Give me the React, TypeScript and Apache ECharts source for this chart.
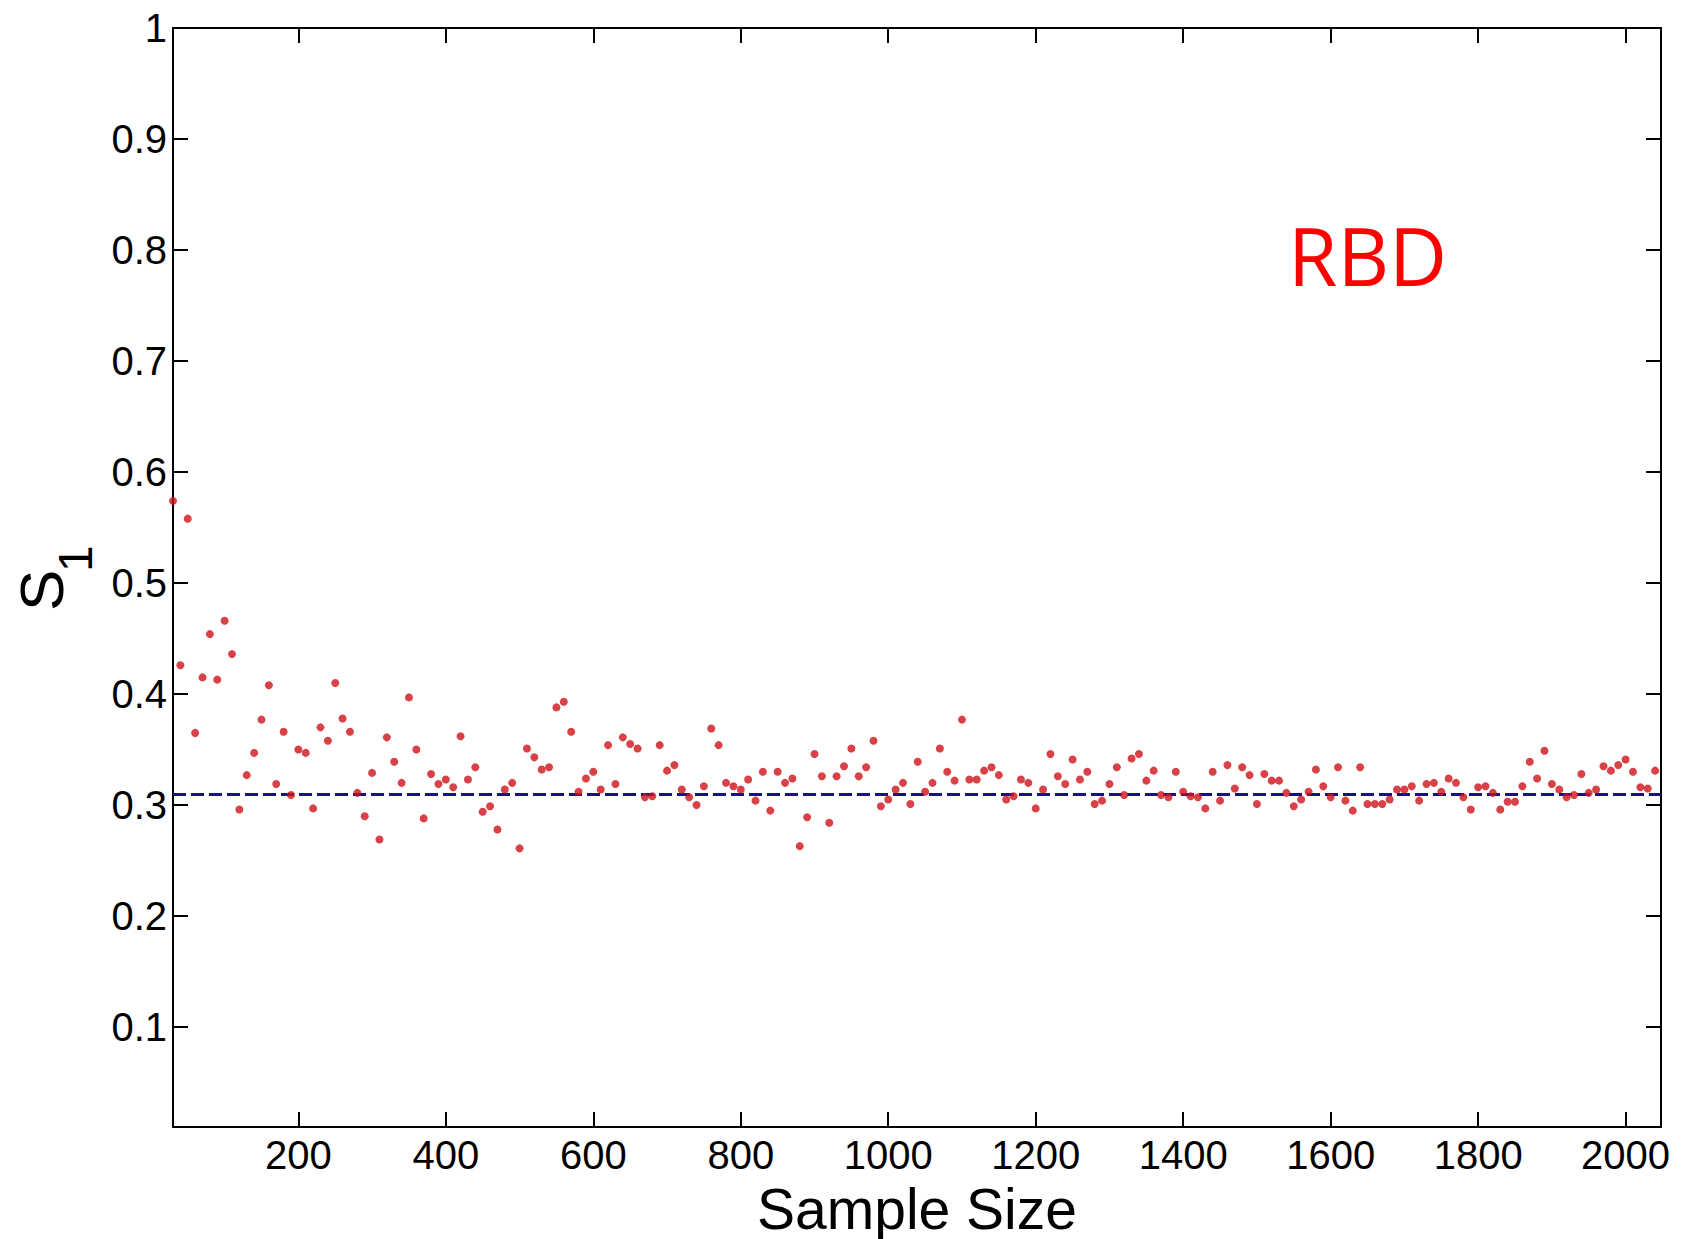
import React, { useEffect, useRef } from "react";
import * as echarts from "echarts";

const sampleSizes = [
  30, 40, 50, 60, 70, 80, 90, 100, 110, 120,
  130, 140, 150, 160, 170, 180, 190, 200, 210, 220,
  230, 240, 250, 260, 270, 280, 290, 300, 310, 320,
  330, 340, 350, 360, 370, 380, 390, 400, 410, 420,
  430, 440, 450, 460, 470, 480, 490, 500, 510, 520,
  530, 540, 550, 560, 570, 580, 590, 600, 610, 620,
  630, 640, 650, 660, 670, 680, 690, 700, 710, 720,
  730, 740, 750, 760, 770, 780, 790, 800, 810, 820,
  830, 840, 850, 860, 870, 880, 890, 900, 910, 920,
  930, 940, 950, 960, 970, 980, 990, 1000, 1010, 1020,
  1030, 1040, 1050, 1060, 1070, 1080, 1090, 1100, 1110, 1120,
  1130, 1140, 1150, 1160, 1170, 1180, 1190, 1200, 1210, 1220,
  1230, 1240, 1250, 1260, 1270, 1280, 1290, 1300, 1310, 1320,
  1330, 1340, 1350, 1360, 1370, 1380, 1390, 1400, 1410, 1420,
  1430, 1440, 1450, 1460, 1470, 1480, 1490, 1500, 1510, 1520,
  1530, 1540, 1550, 1560, 1570, 1580, 1590, 1600, 1610, 1620,
  1630, 1640, 1650, 1660, 1670, 1680, 1690, 1700, 1710, 1720,
  1730, 1740, 1750, 1760, 1770, 1780, 1790, 1800, 1810, 1820,
  1830, 1840, 1850, 1860, 1870, 1880, 1890, 1900, 1910, 1920,
  1930, 1940, 1950, 1960, 1970, 1980, 1990, 2000, 2010, 2020,
  2030, 2040,
];

const s1Values = [
  0.574, 0.426, 0.558, 0.365, 0.415, 0.454, 0.413, 0.466, 0.436, 0.296,
  0.327, 0.347, 0.377, 0.408, 0.319, 0.366, 0.309, 0.350, 0.347, 0.297,
  0.370, 0.358, 0.410, 0.378, 0.366, 0.311, 0.290, 0.329, 0.269, 0.361,
  0.339, 0.320, 0.397, 0.350, 0.288, 0.328, 0.319, 0.323, 0.316, 0.362,
  0.323, 0.334, 0.294, 0.299, 0.278, 0.314, 0.320, 0.261, 0.351, 0.343,
  0.332, 0.334, 0.388, 0.393, 0.366, 0.312, 0.324, 0.330, 0.314, 0.354,
  0.319, 0.361, 0.355, 0.351, 0.307, 0.308, 0.354, 0.331, 0.336, 0.314,
  0.307, 0.300, 0.317, 0.369, 0.354, 0.320, 0.317, 0.314, 0.323, 0.304,
  0.330, 0.295, 0.330, 0.320, 0.324, 0.263, 0.289, 0.346, 0.326, 0.284,
  0.326, 0.335, 0.351, 0.326, 0.334, 0.358, 0.299, 0.305, 0.314, 0.320,
  0.301, 0.339, 0.312, 0.320, 0.351, 0.330, 0.322, 0.377, 0.323, 0.323,
  0.331, 0.334, 0.327, 0.305, 0.308, 0.323, 0.320, 0.297, 0.314, 0.346,
  0.326, 0.319, 0.341, 0.323, 0.330, 0.301, 0.304, 0.319, 0.334, 0.309,
  0.342, 0.346, 0.322, 0.331, 0.309, 0.307, 0.330, 0.312, 0.308, 0.307,
  0.297, 0.330, 0.304, 0.336, 0.315, 0.334, 0.327, 0.301, 0.328, 0.322,
  0.322, 0.311, 0.299, 0.305, 0.312, 0.332, 0.317, 0.307, 0.334, 0.304,
  0.295, 0.334, 0.301, 0.301, 0.301, 0.305, 0.314, 0.314, 0.317, 0.304,
  0.319, 0.320, 0.312, 0.324, 0.320, 0.307, 0.296, 0.316, 0.317, 0.311,
  0.296, 0.303, 0.303, 0.317, 0.339, 0.324, 0.349, 0.319, 0.314, 0.307,
  0.309, 0.328, 0.311, 0.314, 0.335, 0.331, 0.336, 0.341, 0.330, 0.316,
  0.315, 0.331,
];

const referenceS1 = 0.311;
const xLimits = [30, 2048];
const yLimits = [0.01, 1];
const methodLabel = "RBD";
const xTitle = "Sample Size";
const yTitleMain = "S";
const yTitleSub = "1";

const FONT = '"Liberation Sans", Arial, Helvetica, sans-serif';

export default function App() {
  const ref = useRef<HTMLDivElement>(null);

  useEffect(() => {
    const chart = echarts.init(ref.current!, null, { renderer: "svg" });

    const lineStyle = { color: "#000", width: 2 };
    const xBase = {
      type: "value",
      min: xLimits[0],
      max: xLimits[1],
      splitNumber: 10,
      minInterval: 200,
      maxInterval: 200,
      axisLine: { show: true, onZero: false, lineStyle },
      axisTick: { show: true, inside: true, length: 15, lineStyle },
      splitLine: { show: false },
    };
    const yBase = {
      type: "value",
      min: yLimits[0],
      max: yLimits[1],
      splitNumber: 10,
      minInterval: 0.1,
      maxInterval: 0.1,
      axisLine: { show: true, onZero: false, lineStyle },
      axisTick: { show: true, inside: true, length: 15, lineStyle },
      splitLine: { show: false },
    };

    chart.setOption({
      animation: false,
      backgroundColor: "#ffffff",
      grid: {
        left: 173,
        right: 20,
        top: 28,
        bottom: 112,
        containLabel: false,
        outerBoundsMode: "none",
      },
      xAxis: [
        {
          ...xBase,
          position: "bottom",
          axisLabel: {
            show: true,
            color: "#000",
            fontSize: 40,
            fontFamily: FONT,
            margin: 8,
            showMinLabel: false,
            showMaxLabel: false,
            formatter: (v: number) => String(Math.round(v)),
          },
          name: xTitle,
          nameLocation: "middle",
          nameGap: 43,
          nameTextStyle: {
            color: "#000",
            fontSize: 57,
            lineHeight: 58,
            fontFamily: FONT,
          },
        },
        {
          ...xBase,
          position: "top",
          axisLabel: { show: false },
        },
      ],
      yAxis: [
        {
          ...yBase,
          position: "left",
          axisLabel: {
            show: true,
            color: "#000",
            fontSize: 40,
            fontFamily: FONT,
            margin: 6,
            showMinLabel: false,
            showMaxLabel: true,
            formatter: (v: number) => String(Math.round(v * 10) / 10),
          },
        },
        {
          ...yBase,
          position: "right",
          axisLabel: { show: false },
        },
      ],
      graphic: [
        {
          type: "group",
          x: 41,
          y: 611,
          rotation: Math.PI / 2,
          children: [
            {
              type: "text",
              x: 0,
              y: 0,
              style: {
                text: yTitleMain,
                font: `62px ${FONT}`,
                fill: "#000",
                align: "left",
                verticalAlign: "middle",
              },
            },
            {
              type: "text",
              x: 39,
              y: 34,
              style: {
                text: yTitleSub,
                font: `48px ${FONT}`,
                fill: "#000",
                align: "left",
                verticalAlign: "middle",
              },
            },
          ],
        },
        {
          type: "text",
          x: 1288,
          y: 254,
          style: {
            text: methodLabel,
            font: '80px "Open Sans", Lato, sans-serif',
            fill: "#ff0000",
            align: "left",
            verticalAlign: "middle",
          },
        },
      ],
      series: [
        {
          type: "scatter",
          xAxisIndex: 0,
          yAxisIndex: 0,
          z: 10,
          symbol: "circle",
          symbolSize: 8,
          itemStyle: { color: "#d0111a" },
          data: sampleSizes.map((x, i) => [x, s1Values[i]]),
          markLine: {
            silent: true,
            symbol: ["none", "none"],
            label: { show: false },
            lineStyle: { color: "#14147f", type: [13, 5], width: 3 },
            data: [{ yAxis: referenceS1 }],
          },
        },
      ],
    });

    return () => chart.dispose();
  }, []);

  return (
    <div
      ref={ref}
      style={{
        position: "fixed",
        left: 0,
        top: 0,
        width: 1681,
        height: 1239,
        background: "#fff",
      }}
    />
  );
}
